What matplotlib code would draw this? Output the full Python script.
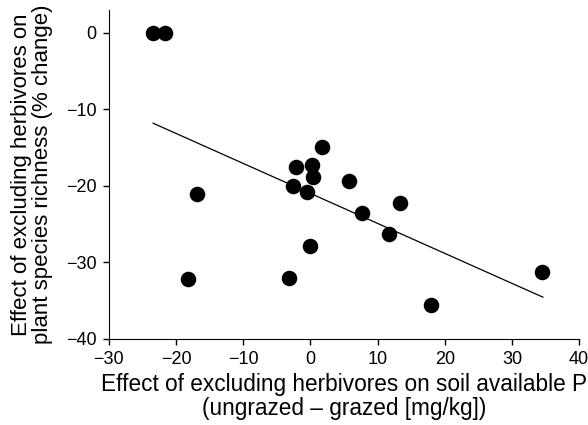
import numpy as np
import matplotlib
matplotlib.use('Agg')
import matplotlib.pyplot as plt

# effect on soil available P (ungrazed - grazed, mg/kg)
soil_p = [-23.4, -21.7, -16.8, -18.2, -3.2, -2.6, -2.1, -0.45, 0.0, 0.2,
          0.35, 1.7, 5.7, 7.7, 11.7, 13.3, 17.9, 34.4]
# effect on plant species richness (% change)
richness = [0.0, 0.0, -21.1, -32.2, -32.0, -20.0, -17.5, -20.8, -27.8, -17.3,
            -18.8, -14.9, -19.3, -23.5, -26.3, -22.2, -35.6, -31.3]

# regression line
fit_slope = -0.392
fit_intercept = -20.97
fit_range = [-23.4, 34.6]

plt.rcParams['font.family'] = ['Liberation Sans', 'DejaVu Sans']

fig = plt.figure(figsize=(5.88, 4.25), dpi=100)
ax = fig.add_axes([0.185, 0.2024, 0.800, 0.774])

ax.scatter(soil_p, richness, s=125, color='black', zorder=3, linewidths=0)
lx = np.array(fit_range)
ax.plot(lx, fit_intercept + fit_slope * lx, color='black', lw=0.9)

ax.set_xlim(-30, 40)
ax.set_ylim(-40, 3)
ax.set_xticks([-30, -20, -10, 0, 10, 20, 30, 40])
ax.set_yticks([-40, -30, -20, -10, 0])
ax.spines['top'].set_visible(False)
ax.spines['right'].set_visible(False)
ax.tick_params(labelsize=13, length=4, width=1)
ax.tick_params(axis='x', pad=5)
ax.tick_params(axis='y', pad=5)
ax.set_xlabel('Effect of excluding herbivores on soil available P\n(ungrazed \u2013 grazed [mg/kg])',
              fontsize=16.3, linespacing=1.05)
ax.set_ylabel('Effect of excluding herbivores on\nplant species richness (% change)',
              fontsize=16, linespacing=1.0)
ax.xaxis.set_label_coords(0.5, -0.104)
ax.yaxis.set_label_coords(-0.118, 0.5)

fig.savefig('out.png', dpi=100)
